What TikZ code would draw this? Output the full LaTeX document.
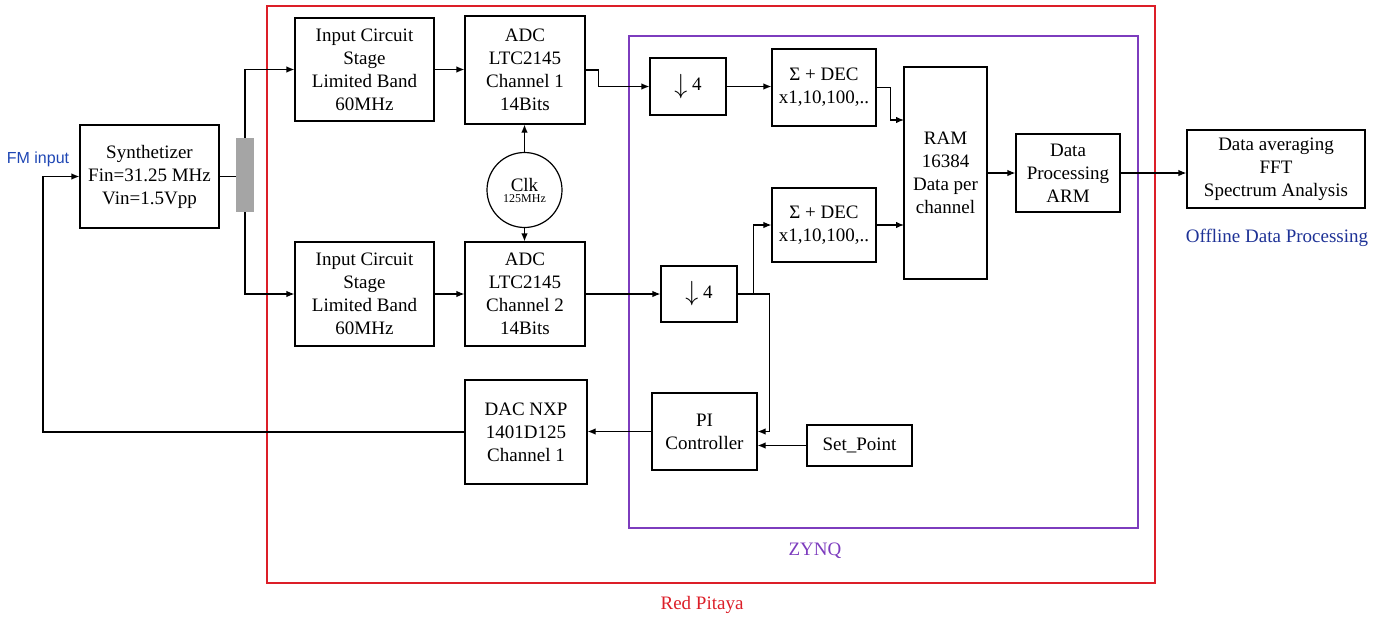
\documentclass[tikz,border=0pt]{standalone}
\usepackage{fontspec}
\setmainfont{Liberation Serif}
\newfontfamily\fmfont{Liberation Sans}
\usetikzlibrary{arrows.meta}
\definecolor{redframe}{RGB}{220,30,40}
\definecolor{purpleframe}{RGB}{125,60,190}
\definecolor{labelblue}{RGB}{30,50,150}
\definecolor{fmblue}{RGB}{30,70,180}
\definecolor{barg}{RGB}{165,165,165}
\newcommand{\bigdown}{\raisebox{-0.3ex}{\scalebox{1.5}[1.6]{$\downarrow$}}}
\begin{document}
\begin{tikzpicture}[x=1pt,y=-1pt,
  blk/.style={draw, line width=1.2pt, inner sep=0pt, align=center, font=\fontsize{19}{23}\selectfont},
  conn/.style={line width=1.2pt, -{Latex[length=8pt,width=6.5pt]}},
  plainline/.style={line width=1.2pt},
  lbl/.style={inner sep=0pt, font=\fontsize{19}{23}\selectfont}]
\useasboundingbox (0,0) rectangle (1390,621);
% frames
\draw[redframe, line width=2.5pt] (267,6) rectangle (1155,583);
\draw[purpleframe, line width=2.5pt] (629,36) rectangle (1138,528);
% blocks
\node[blk, minimum width=139pt, minimum height=103pt] (synth) at (149.5,176.5) {Synthetizer\\Fin=31.25 MHz\\Vin=1.5Vpp};
\node[fill=barg, inner sep=0pt, minimum width=18pt, minimum height=74pt] (bar) at (245,175) {};
\node[blk, minimum width=139pt, minimum height=103pt] (in1) at (364.5,69.5) {Input Circuit\\Stage\\Limited Band\\60MHz};
\node[blk, minimum width=139pt, minimum height=104pt] (in2) at (364.5,294) {Input Circuit\\Stage\\Limited Band\\60MHz};
\node[blk, minimum width=120pt, minimum height=108pt] (adc1) at (525,70) {ADC\\LTC2145\\Channel 1\\14Bits};
\node[blk, minimum width=120pt, minimum height=104pt] (adc2) at (525,294) {ADC\\LTC2145\\Channel 2\\14Bits};
\node[draw, circle, line width=1.2pt, minimum size=75pt, inner sep=0pt, align=center] (clk) at (524.5,190)
  {{\fontsize{19}{20}\selectfont Clk}\\[-1pt]{\fontsize{12}{13}\selectfont 125MHz}};
\node[blk, minimum width=76pt, minimum height=57pt] (dn1) at (688,86.5) {\bigdown\hspace{5pt}4};
\node[blk, minimum width=76pt, minimum height=56pt] (dn2) at (699,294) {\bigdown\hspace{5pt}4};
\node[blk, minimum width=104pt, minimum height=77pt] (sd1) at (824,87.5) {Σ + DEC\\x1,10,100,..};
\node[blk, minimum width=104pt, minimum height=74pt] (sd2) at (824,225) {Σ + DEC\\x1,10,100,..};
\node[blk, minimum width=83pt, minimum height=212pt] (ram) at (945.5,173) {RAM\\16384\\Data per\\channel};
\node[blk, minimum width=104pt, minimum height=78pt] (dp) at (1068,173) {Data\\Processing\\ARM};
\node[blk, minimum width=178pt, minimum height=78pt] (avg) at (1276,169) {Data averaging\\FFT\\Spectrum Analysis};
\node[blk, minimum width=122pt, minimum height=104pt] (dac) at (526,432) {DAC NXP\\1401D125\\Channel 1};
\node[blk, minimum width=105pt, minimum height=77pt] (pi) at (704.5,431.5) {PI\\Controller};
\node[blk, minimum width=105pt, minimum height=41pt] (sp) at (859.5,445.5) {Set\_Point};
% labels
\node[inner sep=0pt, font=\fmfont\fontsize{16}{16}\selectfont, text=fmblue] (fm) at (38,159) {FM input};
\node[lbl, text=labelblue] (offl) at (1277,238) {Offline Data Processing};
\node[lbl, text=purpleframe] (zynq) at (815,551) {ZYNQ};
\node[lbl, text=redframe] (rp) at (702,605) {Red Pitaya};
% helper coordinates
\coordinate (r1) at (904,120);
\coordinate (r2) at (904,225);
\coordinate (fb) at (43,432);
% connectors
\draw[plainline] (synth.east) -- (synth.east -| bar.west);
\draw[conn] (bar.north) |- (in1.west);
\draw[conn] (bar.south) |- (in2.west);
\draw[conn] (in1.east) -- (in1.east -| adc1.west);
\draw[conn] (in2.east) -- (adc2.west);
\draw[conn] (clk.north) -- (clk.north |- adc1.south);
\draw[conn] (clk.south) -- (clk.south |- adc2.north);
\draw[conn] (adc1.east) -- ++(13,0) |- (dn1.west);
\draw[conn] (adc2.east) -- (dn2.west);
\draw[conn] (dn1.east) -- (dn1.east -| sd1.west);
\draw[conn] (sd1.east) -- ++(14,0) |- (r1);
\draw[conn] (dn2.east) -- ++(16,0) |- (sd2.west);
\draw[conn] (sd2.east) -- (r2);
\draw[conn] (dn2.east) -- ++(32,0) |- (pi.east);
\draw[conn] (sp.west) -- (sp.west -| pi.east);
\draw[conn] (pi.west) -- (pi.west -| dac.east);
\draw[conn] (dac.west) -- (fb) |- (synth.west);
\draw[conn] (ram.east) -- (dp.west);
\draw[conn] (dp.east) -- (dp.east -| avg.west);
\end{tikzpicture}
\end{document}
